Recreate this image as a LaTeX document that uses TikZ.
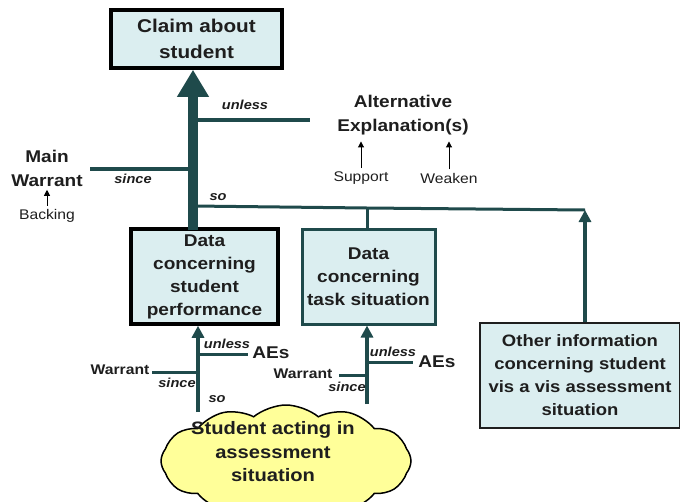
\documentclass[tikz,border=0pt]{standalone}
\usepackage{fontspec}
\setmainfont[FakeStretch=1.12]{Liberation Sans}
\usetikzlibrary{shapes.symbols,arrows.meta}

\definecolor{linkteal}{RGB}{31,74,75}
\definecolor{boxfill}{RGB}{219,238,240}
\definecolor{cloudfill}{RGB}{255,255,153}
\definecolor{inkgray}{RGB}{30,30,30}

\newcommand{\fs}[2]{\fontsize{#1}{#2}\selectfont}

\begin{document}
\begin{tikzpicture}[x=1pt, y=-1pt, text=inkgray,
  box/.style={draw, fill=boxfill, align=center, inner sep=1pt, font=\bfseries\fs{17}{23}},
  link/.style={draw=linkteal, line width=3.5pt},
  uparrow/.style={link, -{Triangle[width=12pt,length=12pt]}},
  word/.style={font=\bfseries\itshape\fs{13}{15}},
  head/.style={align=center, font=\bfseries\fs{17}{24}},
  plain/.style={font=\fs{14}{16}},
  thin arrow/.style={draw=black, line width=1pt, -{Triangle[width=6pt,length=6pt]}}]
  \useasboundingbox (0,0) rectangle (680,501);

  \node [box, line width=3.5pt, minimum width=171, minimum height=58, font=\bfseries\fs{18.5}{26}] (claim) at (196.5,39) {Claim about\\student};
  \node [box, line width=3.5pt, minimum width=147, minimum height=95] (dstud) at (204.5,276.5) {Data\\concerning\\student\\performance};
  \node [box, draw=linkteal, line width=3pt, minimum width=133, minimum height=95] (dtask) at (368.5,276.5) {Data\\concerning\\task situation};
  \node [box, line width=1.5pt, draw=inkgray, minimum width=200, minimum height=105, font=\bfseries\fs{16.5}{23}] (other) at (580,375.5) {Other information\\concerning student\\vis a vis assessment\\situation};

  \node [cloud, cloud puffs=12, cloud puff arc=80, aspect=2.2, draw=black, fill=cloudfill, line width=1.5pt, minimum width=250, minimum height=112] (cloud) at (286,461) {};
  \node [align=center, font=\bfseries\fs{18}{23.5}] (act) at (273,452) {Student acting in\\assessment\\situation};

  % main argument
  \coordinate (trunk) at (193,230);
  \draw [draw=linkteal, line width=10pt, -{Triangle[width=30pt,length=27pt]}] (trunk) -- (trunk |- claim.south);
  \coordinate (u1) at (193,120);
  \coordinate (u2) at (310,120);
  \draw [link] (u1) -- (u2);
  \node [word] (unl) at (245,105) {unless};
  \coordinate (s1) at (90,169);
  \coordinate (s2) at (193,169);
  \draw [link] (s1) -- (s2);
  \node [word] (sin) at (133,179) {since};
  \node [head] (mainw) at (47,168) {Main\\Warrant};
  \node [plain] (backing) at (47,216) {Backing};
  \draw [thin arrow] (backing.north) -- (backing.north |- mainw.south);

  \node [head] (alt) at (403,115) {Alternative\\Explanation(s)};
  \node [plain] (support) at (361,178) {Support};
  \node [plain] (weaken) at (449,178) {Weaken};
  \draw [thin arrow] (support.north) -- ([yshift=-3pt]support.north |- alt.south);
  \draw [thin arrow] (weaken.north) -- ([yshift=-3pt]weaken.north |- alt.south);

  \node [word] (so) at (218,197) {so};
  \coordinate (so1) at (193,206);
  \coordinate (so2) at (367,208);
  \coordinate (so3) at (585,210);
  \draw [link, line width=3pt] (so1) -- (so2) -- (so3);
  \draw [link, line width=3pt] (so2) -- (so2 |- dtask.north);
  \draw [uparrow] (other.north -| so3) -- (so3);

  % student performance
  \coordinate (lb) at (198,412);
  \draw [uparrow] (lb) -- (lb |- dstud.south);
  \coordinate (lu1) at (198,354);
  \coordinate (lu2) at (248,354);
  \draw [link, line width=3pt] (lu1) -- (lu2);
  \node [word] (lunl) at (227,344) {unless};
  \node [head] (lae) at (271,353) {AEs};
  \node [font=\bfseries\fs{14}{16}] (lwar) at (120,370) {Warrant};
  \coordinate (ls1) at (152,372);
  \coordinate (ls2) at (198,372);
  \draw [link, line width=3pt] (ls1) -- (ls2);
  \node [word] (lsin) at (177,383) {since};
  \node [word] (lso) at (217,399) {so};

  % task situation
  \coordinate (rb) at (367,404);
  \draw [uparrow] (rb) -- (rb |- dtask.south);
  \coordinate (ru1) at (367,362);
  \coordinate (ru2) at (413,362);
  \draw [link, line width=3pt] (ru1) -- (ru2);
  \node [word] (runl) at (393,352) {unless};
  \node [head] (rae) at (437,362) {AEs};
  \node [font=\bfseries\fs{14}{16}] (rwar) at (303,374) {Warrant};
  \coordinate (rs1) at (339,375);
  \coordinate (rs2) at (367,375);
  \draw [link, line width=3pt] (rs1) -- (rs2);
  \node [word] (rsin) at (347,387) {since};
\end{tikzpicture}
\end{document}
